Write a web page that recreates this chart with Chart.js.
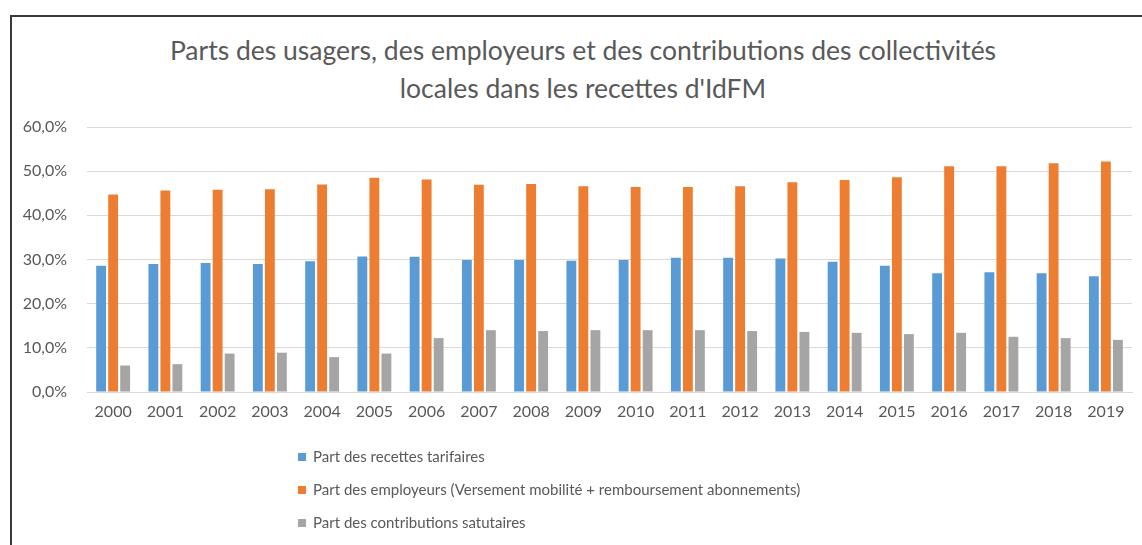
<!DOCTYPE html>
<html lang="fr">
<head>
<meta charset="utf-8">
<title>Recettes IdFM</title>
<script src="https://cdn.jsdelivr.net/npm/chart.js@4"></script>
<style>
    html, body { margin: 0; padding: 0; background: #fff; }
    body { width: 1142px; height: 545px; position: relative; overflow: hidden; }
    #frame {
        position: absolute; left: 10px; top: 15px; right: 0; bottom: -5px;
        border-top: 2px solid #3a3a3a; border-left: 2px solid #3a3a3a;
    }
    #wrap { position: absolute; left: 0; top: 0; width: 1142px; height: 545px; }
    #title {
        position: absolute; left: 34px; width: 1098px; top: 31px;
        text-align: center; font-family: Lato, "Open Sans", sans-serif;
        font-size: 26.5px; line-height: 38px; color: #595959;
    }
    #legend {
        position: absolute; left: 298px; top: 440px;
        font-family: Lato, "Open Sans", sans-serif; font-size: 15px; color: #595959;
    }
    #legend .item { height: 33px; line-height: 33px; white-space: nowrap; }
    #legend .box { display: inline-block; width: 8px; height: 8px; margin-right: 7px; vertical-align: 1px; }
</style>
</head>
<body>
<div id="frame"></div>
<div id="title"></div>
<div id="wrap"><canvas id="revenueChart" width="1142" height="545"></canvas></div>
<div id="legend"></div>
<script>
var years = ['2000', '2001', '2002', '2003', '2004', '2005', '2006', '2007', '2008', '2009',
    '2010', '2011', '2012', '2013', '2014', '2015', '2016', '2017', '2018', '2019'];

// part des recettes tarifaires (%)
var tarifaires = [28.6, 29.0, 29.2, 29.0, 29.6, 30.7, 30.6, 29.9, 29.9, 29.7,
    29.9, 30.4, 30.4, 30.2, 29.5, 28.6, 26.9, 27.1, 26.9, 26.2];

// part des employeurs (%)
var employeurs = [44.7, 45.6, 45.8, 45.9, 47.0, 48.5, 48.1, 46.9, 47.1, 46.6,
    46.4, 46.4, 46.6, 47.5, 48.0, 48.6, 51.1, 51.1, 51.8, 52.2];

// part des contributions statutaires (%)
var contributions = [6.0, 6.3, 8.7, 8.9, 7.9, 8.7, 12.2, 14.0, 13.8, 14.0,
    14.0, 14.0, 13.8, 13.6, 13.4, 13.1, 13.4, 12.5, 12.2, 11.8];

var seriesLabels = [
    'Part des recettes tarifaires',
    'Part des employeurs (Versement mobilité + remboursement abonnements)',
    'Part des contributions satutaires'
];
var seriesColors = ['#5b9bd5', '#ed7d31', '#a5a5a5'];

var titleLines = [
    'Parts des usagers, des employeurs et des contributions des collectivités',
    'locales dans les recettes d\'IdFM'
];

(function () {
    var canvas = document.getElementById('revenueChart');
    var textColor = '#595959';
    var fontFamily = 'Lato, "Open Sans", sans-serif';

    function formatPct(v) {
        return v.toFixed(1).replace('.', ',') + '%';
    }

    // title sits a bit right of the canvas centre, so it lives in the page
    var title = document.getElementById('title');
    titleLines.forEach(function (line) {
        var div = document.createElement('div');
        div.textContent = line;
        title.appendChild(div);
    });

    var datasets = [tarifaires, employeurs, contributions].map(function (values, i) {
        return {
            label: seriesLabels[i],
            data: values,
            backgroundColor: seriesColors[i],
            borderWidth: 0,
            categoryPercentage: 0.69,
            barPercentage: 0.82
        };
    });

    new Chart(canvas, {
        type: 'bar',
        data: { labels: years, datasets: datasets },
        options: {
            responsive: false,
            animation: false,
            layout: { padding: { left: 0, right: 10, top: 127, bottom: 123 } },
            plugins: {
                legend: { display: false },
                tooltip: { enabled: false },
                title: { display: false }
            },
            scales: {
                x: {
                    grid: { display: false, drawTicks: false },
                    border: { display: true, color: '#d9d9d9', width: 1 },
                    ticks: { color: textColor, font: { family: fontFamily, size: 16 }, padding: 10, maxRotation: 0 },
                    afterFit: function (scale) { scale.height = 30; }
                },
                y: {
                    min: 0,
                    max: 60,
                    ticks: {
                        stepSize: 10,
                        color: textColor,
                        font: { family: fontFamily, size: 16 },
                        padding: 20,
                        callback: function (v) { return formatPct(v); }
                    },
                    grid: { color: '#d9d9d9', drawTicks: false },
                    border: { display: false },
                    afterFit: function (scale) { scale.width = 87; }
                }
            }
        }
    });

    var legend = document.getElementById('legend');
    seriesLabels.forEach(function (label, i) {
        var row = document.createElement('div');
        row.className = 'item';
        var box = document.createElement('span');
        box.className = 'box';
        box.style.background = seriesColors[i];
        row.appendChild(box);
        row.appendChild(document.createTextNode(label));
        legend.appendChild(row);
    });
})();
</script>
</body>
</html>
